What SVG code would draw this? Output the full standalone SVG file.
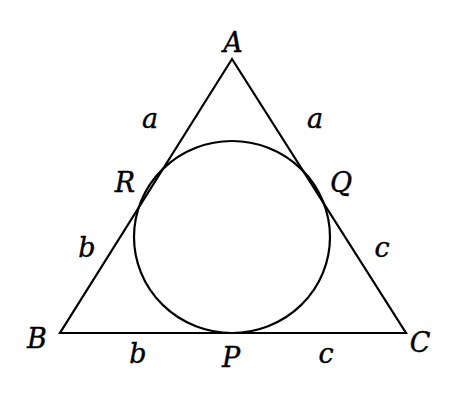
<svg xmlns="http://www.w3.org/2000/svg" width="464" height="410" viewBox="0 0 464 410">
<style>
.s{fill:none;stroke:#000;stroke-width:2.2;stroke-linejoin:miter}
text{font-family:"DejaVu Serif","Liberation Serif",serif;font-style:italic;font-size:27px;fill:#000;stroke:#000;stroke-width:0.4;text-anchor:middle}
</style>
<rect width="464" height="410" fill="#fff"/>
<g id="connectors">
<polygon class="s" points="232,59 60,333 406,333"/>
</g>
<g id="incircle"><ellipse class="s" cx="232" cy="237" rx="98" ry="96"/></g>
<g id="A"><text x="233" y="52">A</text></g>
<g id="B"><text x="37" y="348">B</text></g>
<g id="C"><text x="420" y="352">C</text></g>
<g id="P"><text x="231" y="367">P</text></g>
<g id="Q"><text x="341" y="192">Q</text></g>
<g id="R"><text x="125" y="192">R</text></g>
<g id="labels">
<text x="150" y="128">a</text>
<text x="315" y="128">a</text>
<text x="87" y="257">b</text>
<text x="382" y="257">c</text>
<text x="138" y="363">b</text>
<text x="326" y="363">c</text>
</g>
</svg>
